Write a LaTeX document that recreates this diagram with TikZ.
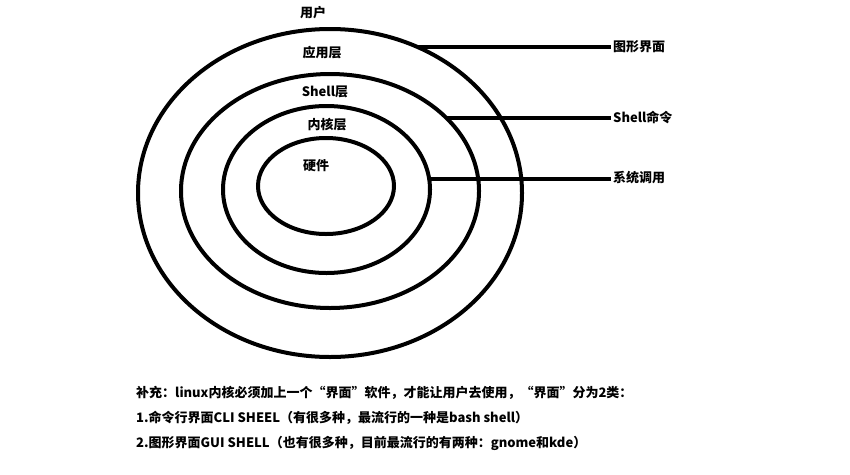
\documentclass[tikz,border=0pt]{standalone}
\usepackage{fontspec}
\newfontfamily\cjk{Noto Sans CJK SC}
\usetikzlibrary{shapes.geometric}

\begin{document}
\begin{tikzpicture}
	[x=1pt,y=-1pt,
	 every node/.style={font=\cjk\bfseries\fontsize{13}{15}\selectfont},
	 layer/.style={ellipse,draw,line width=4pt,inner sep=0pt,outer sep=0pt},
	 link/.style={line width=4pt}]
	\useasboundingbox (0,0) rectangle (850,474);
	% Schichten
	\node[layer,minimum width=384pt,minimum height=328pt] (app) at (330,193) {};
	\node[layer,minimum width=298pt,minimum height=234pt] (shell) at (330,191) {};
	\node[layer,minimum width=207pt,minimum height=167pt] (kernel) at (326.5,189.5) {};
	\node[layer,minimum width=136pt,minimum height=96pt] (hw) at (326,186) {};
	\draw (313,13) node (user) {用户};
	\draw (322,53) node (applbl) {应用层};
	\draw (325,92) node (shelllbl) {Shell层};
	\draw (327,125) node (kernellbl) {内核层};
	\draw (316,166) node (hwlbl) {硬件};
	% Schnittstellen
	\draw (611,47) node[anchor=west,inner sep=2pt] (gui) {图形界面};
	\draw (611,117) node[anchor=west,inner sep=2pt] (cmd) {Shell命令};
	\draw (611,178) node[anchor=west,inner sep=2pt] (syscall) {系统调用};
	\draw[link] (app.59.1) -- (app.59.1 -| gui.west);
	\draw[link] (shell.32.7) -- (shell.32.7 -| cmd.west);
	\draw[link] (kernel.6.4) -- (kernel.6.4 -| syscall.west);
	% Anmerkung
	\draw (136,393) node[anchor=west,inner sep=0pt] (note1) {补充：linux内核必须加上一个“界面”软件，才能让用户去使用，“界面”分为2类：};
	\draw (136,418) node[anchor=west,inner sep=0pt] (note2) {1.命令行界面CLI SHEEL（有很多种，最流行的一种是bash shell）};
	\draw (136,443) node[anchor=west,inner sep=0pt] (note3) {2.图形界面GUI SHELL（也有很多种，目前最流行的有两种：gnome和kde）};
\end{tikzpicture}
\end{document}
